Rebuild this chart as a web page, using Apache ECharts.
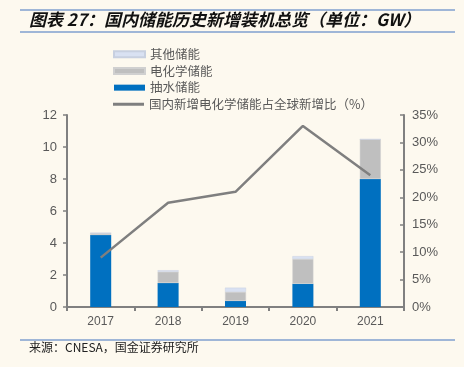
<!DOCTYPE html>
<html><head><meta charset="utf-8">
<script src="https://cdn.jsdelivr.net/npm/echarts@6/dist/echarts.min.js"></script>
<style>html,body{margin:0;padding:0;background:#fdf9ef;}#c{width:464px;height:367px;}</style>
</head><body><div id="c"></div>
<script>
var categories = ['2017','2018','2019','2020','2021'];
var pumped = [4.5, 1.5, 0.38, 1.45, 8.0];
var electro = [0.12, 0.7, 0.56, 1.55, 2.48];
var other = [0.0, 0.1, 0.27, 0.18, 0.0];
var share = [9, 19, 21, 33, 24];
var leftTicks = [0, 12, 2];
var rightTicks = [0, 35, 5];

var FONT = '"Noto Sans CJK SC", "Liberation Sans", sans-serif';
var chart = echarts.init(document.getElementById('c'));
var axisLine = {show: true, lineStyle: {color: '#808080', width: 2}};
var legendText = {color: '#595959', fontSize: 12.5, fontFamily: FONT};
chart.setOption({
  backgroundColor: '#fdf9ef',
  textStyle: {fontFamily: FONT},
  animation: false,
  graphic: [
    {type: 'line', shape: {x1: 20, y1: 10, x2: 455, y2: 10}, style: {stroke: '#7f9fcf', lineWidth: 1.5}},
    {type: 'line', shape: {x1: 20, y1: 32, x2: 455, y2: 32}, style: {stroke: '#7f9fcf', lineWidth: 1.5}},
    {type: 'text', left: 29, top: 11, style: {text: '图表 27：国内储能历史新增装机总览（单位：GW）', font: 'italic bold 17px ' + FONT, fill: '#111'}},
    {type: 'line', shape: {x1: 20, y1: 340, x2: 455, y2: 340}, style: {stroke: '#7f9fcf', lineWidth: 1.5}},
    {type: 'text', left: 29, top: 341, style: {text: '来源：CNESA，国金证券研究所', font: '12px ' + FONT, fill: '#222'}}
  ],
  legend: [{
    orient: 'vertical', left: 108, top: 43,
    itemWidth: 31, itemHeight: 6, itemGap: 4.2, icon: 'rect',
    textStyle: legendText,
    data: ['其他储能', '电化学储能', '抽水储能']
  }, {
    orient: 'vertical', left: 108, top: 93,
    itemWidth: 31, itemHeight: 3, icon: 'rect',
    textStyle: legendText,
    data: ['国内新增电化学储能占全球新增比（%）']
  }],
  grid: {left: 67, right: 60, top: 115, bottom: 60},
  xAxis: {
    type: 'category', data: categories,
    axisLine: axisLine,
    axisTick: {show: true, length: 4, lineStyle: {color: '#808080', width: 2}},
    axisLabel: {color: '#595959', fontSize: 12, margin: 9, fontFamily: 'Liberation Sans'}
  },
  yAxis: [
    {type: 'value', min: leftTicks[0], max: leftTicks[1], interval: leftTicks[2],
     axisLine: axisLine, splitLine: {show: false},
     axisTick: {show: true, length: 4, lineStyle: {color: '#808080', width: 1.5}},
     axisLabel: {color: '#595959', fontSize: 13, margin: 10, fontFamily: 'Liberation Sans'}},
    {type: 'value', min: rightTicks[0], max: rightTicks[1], interval: rightTicks[2], position: 'right',
     axisLine: axisLine, splitLine: {show: false},
     axisTick: {show: true, inside: true, length: 4, lineStyle: {color: '#808080', width: 1.5}},
     axisLabel: {color: '#595959', fontSize: 13, margin: 8, fontFamily: 'Liberation Sans', formatter: '{value}%'}}
  ],
  series: [
    {name: '抽水储能', type: 'bar', stack: 's', data: pumped, barWidth: 21,
     itemStyle: {color: '#0070c0'}},
    {name: '电化学储能', type: 'bar', stack: 's', data: electro, barWidth: 21,
     itemStyle: {color: '#bfbfbf', borderColor: '#d0d0d0', borderWidth: 0.5}},
    {name: '其他储能', type: 'bar', stack: 's', data: other, barWidth: 21,
     itemStyle: {color: '#d9e1f2', borderColor: '#c8d0e0', borderWidth: 0.5}},
    {name: '国内新增电化学储能占全球新增比（%）', type: 'line', yAxisIndex: 1, data: share,
     symbol: 'none', lineStyle: {color: '#7f7f7f', width: 2.5}, itemStyle: {color: '#7f7f7f'}}
  ]
});
</script></body></html>
